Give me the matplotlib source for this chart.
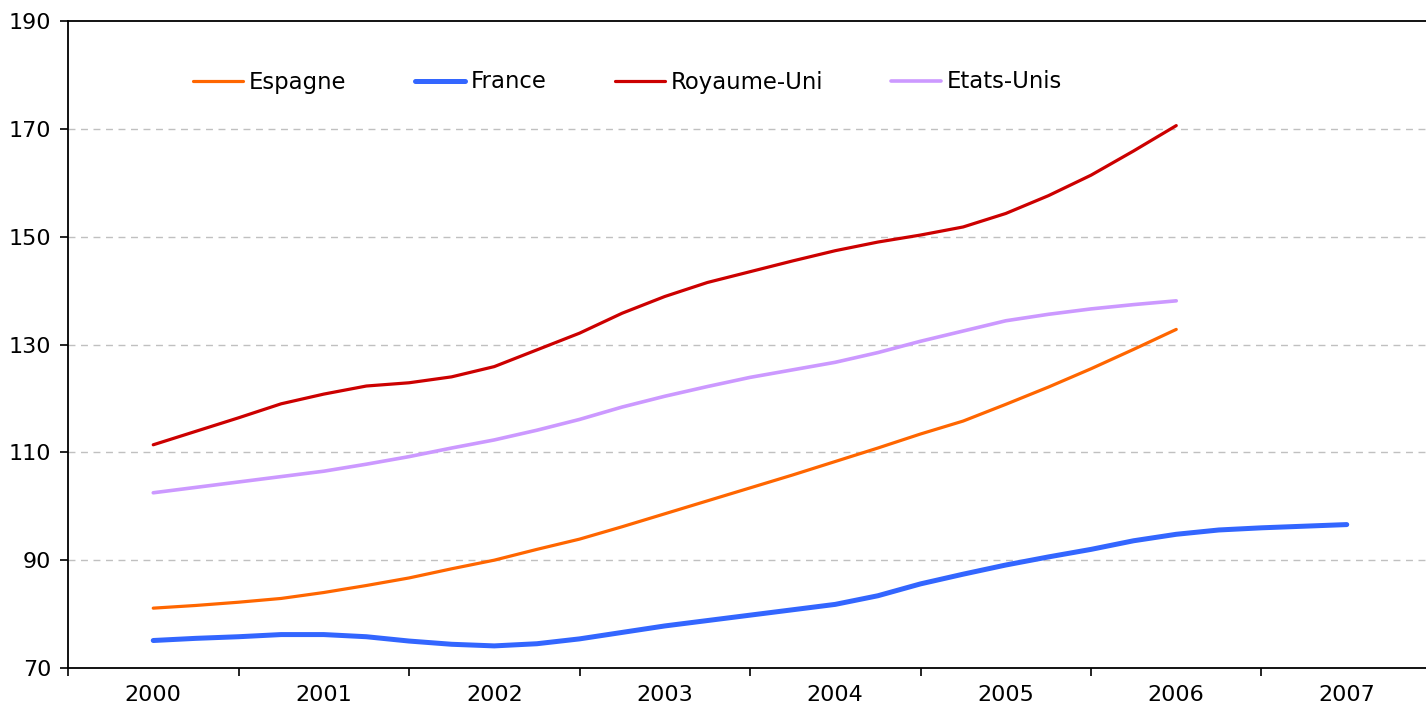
import numpy as np
import matplotlib.pyplot as plt

# Quarterly index values (first quarter of each year sits on the year label)
years = [2000, 2001, 2002, 2003, 2004, 2005, 2006, 2007]

espagne = [81.1, 81.6, 82.2, 82.9, 84.0, 85.3, 86.7, 88.4, 90.0, 92.0, 93.9, 96.2,
           98.6, 101.0, 103.4, 105.8, 108.3, 110.8, 113.4, 115.8, 118.9, 122.1,
           125.5, 129.1, 132.8]
france = [75.1, 75.5, 75.8, 76.2, 76.2, 75.8, 75.0, 74.4, 74.1, 74.5, 75.4, 76.6,
          77.8, 78.8, 79.8, 80.8, 81.8, 83.4, 85.6, 87.4, 89.1, 90.6, 92.0, 93.6,
          94.8, 95.6, 96.0, 96.3, 96.6]
royaume_uni = [111.4, 113.9, 116.4, 119.0, 120.8, 122.3, 122.9, 124.0, 125.9,
               129.0, 132.1, 135.8, 138.9, 141.5, 143.5, 145.5, 147.4, 149.0,
               150.3, 151.8, 154.3, 157.6, 161.4, 165.9, 170.6]
etats_unis = [102.5, 103.5, 104.5, 105.5, 106.5, 107.8, 109.2, 110.8, 112.3,
              114.1, 116.1, 118.4, 120.4, 122.2, 123.9, 125.3, 126.7, 128.5,
              130.6, 132.5, 134.4, 135.6, 136.6, 137.4, 138.1]


def quarters(values):
    return years[0] + np.arange(len(values)) / 4


plt.rcParams['font.family'] = 'DejaVu Sans'

fig = plt.figure(figsize=(14.26, 7.10), dpi=100)
ax = fig.add_axes([68 / 1426, 1 - 668 / 710, 1 - 68 / 1426, (668 - 21) / 710])

ax.plot(quarters(espagne), espagne, color='#FF6600', lw=2.3, label='Espagne',
        solid_capstyle='round')
ax.plot(quarters(france), france, color='#3366FF', lw=3.6, label='France',
        solid_capstyle='round')
ax.plot(quarters(royaume_uni), royaume_uni, color='#CC0000', lw=2.3,
        label='Royaume-Uni', solid_capstyle='round')
ax.plot(quarters(etats_unis), etats_unis, color='#CC99FF', lw=2.6,
        label='Etats-Unis', solid_capstyle='round')

# year labels at category centres, tick marks on the boundaries
ax.set_xticks([y - 0.5 for y in years] + [years[-1] + 0.5])
ax.set_xticklabels([])
ax.set_xticks(years, minor=True)
ax.set_xticklabels([str(y) for y in years], minor=True)
ax.tick_params(axis='x', which='minor', length=0, pad=12, labelsize=16)
ax.tick_params(axis='x', which='major', length=6, width=1.2, direction='out')
ax.tick_params(axis='y', length=6, width=1.2, direction='out', labelsize=16, pad=6)

ax.set_yticks(range(70, 191, 20))
ax.set_ylim(70, 190)
ax.set_xlim(1999.5, 1999.5 + 1358 / 170.5)

for y in range(90, 171, 20):
    ax.axhline(y, color='#C0C0C0', lw=1, ls=(0, (5, 4)), zorder=0)

for side in ['left', 'bottom', 'top']:
    ax.spines[side].set_linewidth(1.3)
ax.spines['right'].set_visible(False)

ax.legend(loc='center left', bbox_to_anchor=(125 / 1358, (668 - 82) / 647),
          ncol=4, frameon=False, fontsize=16.4, handlelength=2.2,
          handletextpad=0.25, columnspacing=3.0, borderpad=0, borderaxespad=0)

fig.savefig('out.png', dpi=100)
